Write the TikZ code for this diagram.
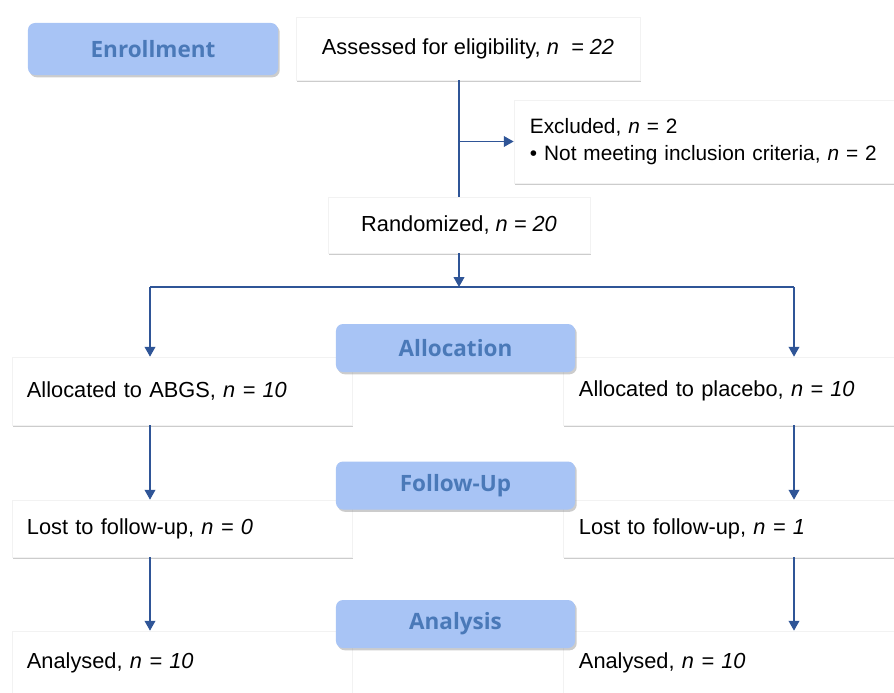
\documentclass[tikz,border=0pt]{standalone}
\usepackage{fontspec}
\setmainfont{Liberation Sans}
\newfontfamily\hdfont{Open Sans}
\usetikzlibrary{shadows,arrows.meta}
\definecolor{tabfill}{HTML}{A8C4F5}
\definecolor{tabtext}{HTML}{4A79B8}
\definecolor{linecol}{HTML}{2F5597}

\begin{document}
\begin{tikzpicture}[x=0.025cm,y=-0.025cm,
  box/.style={fill=white,draw=black!5,drop shadow={shadow xshift=0.6pt,shadow yshift=-1.6pt,opacity=0.4},inner ysep=0pt,font=\fontsize{15.5}{19}\selectfont},
  lbox/.style={box,align=left,inner xsep=0.375cm,text width=7.75cm},
  rbox/.style={box,align=left,inner xsep=0.4cm,text width=7.625cm},
  tab/.style={fill=tabfill,rounded corners=5pt,drop shadow={shadow xshift=1.2pt,shadow yshift=-1.6pt,opacity=0.4},text=tabtext,font=\hdfont\bfseries\fontsize{16}{18}\selectfont,minimum height=1.2cm,minimum width=5.975cm},
  conn/.style={draw=linecol,line width=1.3pt},
  arr/.style={conn,-{Triangle[width=7.5pt,length=7pt]}}]
  \useasboundingbox (0,0) rectangle (894,692);
  \node[tab,minimum width=6.25cm,minimum height=1.3cm] (enroll) at (153,49) {Enrollment};
  \node[box,minimum width=8.6cm,minimum height=1.575cm] (assess) at (468,48.5) {Assessed for eligibility, \textit{n \ = 22}};
  \node[box,align=left,inner xsep=0.4cm,text width=9.4cm,minimum height=2.075cm,font=\fontsize{14.8}{19}\selectfont] (excl) at (718,141.5) {Excluded, \textit{n} = 2\\\textbullet\ Not meeting inclusion criteria, \textit{n} = 2};
  \node[box,minimum width=6.55cm,minimum height=1.4cm] (rand) at (459,225) {Randomized, \textit{n = 20}};
  \node[lbox,minimum height=1.7cm] (allocL) at (182,391) {Allocated to ABGS, \textit{n = 10}\\[4pt]};
  \node[rbox,minimum height=1.7cm] (allocR) at (731.5,391) {Allocated to placebo, \textit{n = 10}\\[4pt]};
  \node[lbox,minimum height=1.425cm] (lostL) at (182,528.5) {Lost to follow-up, \textit{n = 0}};
  \node[rbox,minimum height=1.425cm] (lostR) at (731.5,528.5) {Lost to follow-up, \textit{n = 1}};
  \node[lbox,minimum height=1.6cm] (anaL) at (182,663) {Analysed, \textit{n = 10}};
  \node[rbox,minimum height=1.6cm] (anaR) at (731.5,663) {Analysed, \textit{n = 10}};
  \node[tab] (alloc) at (455.5,348) {Allocation};
  \node[tab] (follow) at (455.5,485.5) {Follow-Up};
  \node[tab] (analysis) at (455.5,624) {Analysis};
  \coordinate (split) at (459,287);
  \coordinate (splitL) at (150,287);
  \coordinate (splitR) at (794,287);
  \draw[conn] (rand.north |- assess.south) -- (rand.north);
  \draw[arr] (rand.north |- excl.west) -- (excl.west);
  \draw[arr] (rand.south) -- (split);
  \draw[conn] (splitL) -- (splitR);
  \draw[arr] (splitL) -- (splitL |- allocL.north);
  \draw[arr] (splitR) -- (splitR |- allocR.north);
  \draw[arr] (splitL |- allocL.south) -- (splitL |- lostL.north);
  \draw[arr] (splitR |- allocR.south) -- (splitR |- lostR.north);
  \draw[arr] (splitL |- lostL.south) -- (splitL |- anaL.north);
  \draw[arr] (splitR |- lostR.south) -- (splitR |- anaR.north);
\end{tikzpicture}
\end{document}
